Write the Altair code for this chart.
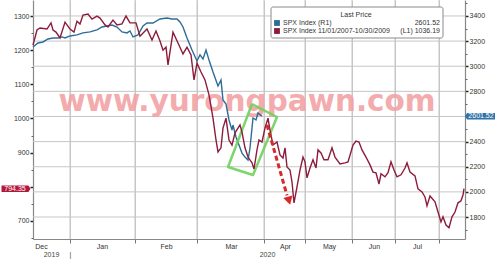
import altair as alt
import pandas as pd

# ---------------- data ----------------
# x position is a chart "time index" (0 = left edge of plot, 432 = right edge)
red_t = [0,4,7,14,18,20,23,27,32,37,41,44,47,50,55,59,64,67,72,75,80,84,89,93,97,103,107,114,119,123,
         127,130,133,135,140,145,150,154,158,161,164,168,172,176,180,183,185,188,190,193,196,199,202,205,207,209,212,215,219,221,
         224,226,229,232,235,237,240,244,247,250,252,254,257,259,261,264,267,270,272,274,277,280,283,285,288,291,295,299,302,307,
         312,315,320,323,326,329,333,337,340,343,346,348,352,355,358,361,364,368,372,374,377,382,385,389,392,394,397,402,405,408,
         410,413,416,419,422,425,428,430,431]
red_v = [1215,1259,1265,1262,1280,1259,1253,1236,1282,1262,1253,1285,1277,1303,1306,1291,1300,1294,1274,1268,
         1288,1274,1277,1300,1280,1280,1241,1262,1230,1256,1227,1200,1209,1157,1253,1221,1189,1209,1186,1113,
         1162,1136,1113,1069,1001,937,902,914,972,1001,937,922,958,972,981,960,914,887,870,852,
         908,937,931,972,1001,966,922,931,893,884,914,858,849,814,753,800,849,887,873,826,
         855,879,855,908,899,879,879,914,887,867,870,873,922,934,931,908,887,864,843,841,
         808,838,829,841,873,849,829,835,855,870,843,832,794,785,770,744,773,756,726,697,
         712,688,680,712,726,753,759,776,794.35]

blue_t = [0,5,10,15,20,25,29,32,37,44,50,57,64,69,74,79,84,89,94,97,100,105,110,114,120,127,134,139,144,147,
          150,154,159,164,167,170,173,176,180,185,188,190,193,196,199,200,203,206,209,212,215,217,220,223,225,229]
blue_v = [3153,3185,3193,3217,3225,3225,3233,3225,3241,3249,3265,3273,3289,3312,3320,3328,3312,3273,3265,3281,
          3233,3249,3320,3344,3344,3376,3384,3376,3376,3352,3312,3225,3129,3042,3090,3058,3129,3050,2954,2843,
          2890,2731,2699,2572,2492,2532,2437,2373,2309,2277,2254,2349,2588,2572,2628,2601.52]

month_names = ["Dec", "Jan", "Feb", "Mar", "Apr", "May", "Jun", "Jul"]
month_label_t = [8, 69, 133, 198, 252, 296, 341, 384]
month_start_t = [37, 102, 164, 231, 272, 319, 362, 406]
year_labels = ["2019", "|", "2020"]
year_label_t = [18, 37, 234]

left_ticks = [700, 800, 900, 1000, 1100, 1200, 1300]
left_minor = [650, 750, 850, 950, 1050, 1150, 1250, 1350]
right_ticks = [1800, 2000, 2200, 2400, 2600, 2800, 3000, 3200, 3400]
right_minor = [1700, 1900, 2100, 2300, 2500, 2700, 2900, 3100, 3300, 3500]

# annotations
box_t = [219, 244, 220, 195, 219]
box_v = [2699, 2596, 2134, 2198, 2699]
arrow_t = [234, 254]
arrow_v = [981, 775]
arrow_head_t = [256]
arrow_head_v = [759]

red_last = 794.35
blue_last = 2601.52
legend_title = "Last Price"
legend_names = ["SPX Index  (R1)", "SPX Index 11/01/2007-10/30/2009"]
legend_values = ["2601.52", "(L1) 1036.19"]
watermark_text = "www.yurongpawn.com"

# ---------------- styles ----------------
FONT = "Liberation Sans"
RED = "#8c1c3c"
BLUE = "#2e6c98"
RED_TAG = "#b3173a"
BLUE_TAG = "#2f73a8"
ARROW = "#d62a2a"
GREEN = "#6fd15c"
GRID = "#c6c6c6"
W, H = 432, 239

xscale = alt.Scale(domain=[0, 432], nice=False, zero=False)
lscale = alt.Scale(domain=[647, 1347], nice=False, zero=False)
rscale = alt.Scale(domain=[1625, 3527], nice=False, zero=False)

red_df = pd.DataFrame({"t": red_t, "v": red_v})
blue_df = pd.DataFrame({"t": blue_t, "v": blue_v})


def xnone():
    return alt.X("t:Q", scale=xscale, axis=None)


def yl():
    return alt.Y("v:Q", scale=lscale, axis=None)


def yr():
    return alt.Y("v:Q", scale=rscale, axis=None)


# ---------- grid lines (span the whole plot) ----------
hgrid = alt.Chart(pd.DataFrame({"v": right_ticks})).mark_rule(
    color=GRID, strokeWidth=1).encode(
    y=yr(), x=alt.value(0), x2=alt.value(W))
vgrid = alt.Chart(pd.DataFrame({"t": month_start_t})).mark_rule(
    color=GRID, strokeWidth=1).encode(
    x=xnone(), y=alt.value(0), y2=alt.value(H))

# ---------- 2020 (right axis) ----------
blue_line = alt.Chart(blue_df).mark_line(color=BLUE, strokeWidth=1.4).encode(
    x=alt.X("t:Q", scale=xscale, title=None,
            axis=alt.Axis(orient="bottom", values=month_start_t, labels=False, ticks=True, tickSize=4,
                          tickColor="#777", domainColor="#888", grid=True, gridColor=GRID,
                          gridWidth=1)),
    y=alt.Y("v:Q", scale=rscale, title=None,
            axis=alt.Axis(orient="right", values=right_ticks, format="d",
                          labelExpr="datum.value == 2600 ? '' : datum.label",
                          tickSize=3, tickWidth=1.5, tickColor="#222", domainColor="#888", domainWidth=1.2,
                          grid=False, labelFont=FONT, labelFontSize=7, labelColor="#333", labelPadding=1)),
)
right_minor_axis = alt.Chart(pd.DataFrame({"v": right_minor})).mark_point(opacity=0).encode(
    y=alt.Y("v:Q", scale=rscale, title=None,
            axis=alt.Axis(orient="right", values=right_minor, labels=False, domain=False, grid=False,
                          tickSize=2, tickColor="#666", tickWidth=1)))

box_df = pd.DataFrame({"t": box_t, "v": box_v, "i": list(range(len(box_t)))})
green_box = alt.Chart(box_df).mark_line(color=GREEN, strokeWidth=2.5, strokeJoin="round", opacity=0.9).encode(
    x=xnone(), y=yr(), order="i:Q")

blue_tag_df = pd.DataFrame({"v": [blue_last], "label": [f"{blue_last:.2f}"]})
blue_tag = alt.Chart(blue_tag_df).mark_point(
    shape="M-1,0L-0.86,-0.22L1,-0.22L1,0.22L-0.86,0.22Z", size=900, filled=True,
    color=BLUE_TAG, opacity=1).encode(x=alt.value(447), y=yr())
blue_tag_text = alt.Chart(blue_tag_df).mark_text(color="white", font=FONT, fontSize=7).encode(
    x=alt.value(448), y=yr(), text="label:N")

# ---------- 2008 (left axis) ----------
red_line = alt.Chart(red_df).mark_line(color=RED, strokeWidth=1.4).encode(
    x=xnone(),
    y=alt.Y("v:Q", scale=lscale, title=None,
            axis=alt.Axis(orient="left", values=left_ticks, format="d",
                          labelExpr="datum.value == 800 ? '' : datum.label",
                          tickSize=3, tickWidth=1.5, tickColor="#222", domainColor="#888", domainWidth=1.2,
                          grid=False, labelFont=FONT, labelFontSize=7, labelColor="#333", labelPadding=1)),
)
left_minor_axis = alt.Chart(pd.DataFrame({"v": left_minor})).mark_point(opacity=0).encode(
    y=alt.Y("v:Q", scale=lscale, title=None,
            axis=alt.Axis(orient="left", values=left_minor, labels=False, domain=False, grid=False,
                          tickSize=2, tickColor="#666", tickWidth=1)))

arrow_line = alt.Chart(pd.DataFrame({"t": arrow_t, "v": arrow_v})).mark_line(
    color=ARROW, strokeWidth=3, strokeDash=[5, 3]).encode(x=xnone(), y=yl())
arrow_head = alt.Chart(pd.DataFrame({"t": arrow_head_t, "v": arrow_head_v})).mark_point(
    shape="triangle-down", filled=True, size=90, angle=344, color=ARROW, opacity=1).encode(x=xnone(), y=yl())

red_tag_df = pd.DataFrame({"v": [red_last], "label": [f"{red_last:.2f}"]})
red_tag = alt.Chart(red_tag_df).mark_point(
    shape="M-1,-0.22L0.86,-0.22L1,0L0.86,0.22L-1,0.22Z", size=840, filled=True,
    color=RED_TAG, opacity=1).encode(x=alt.value(-17), y=yl())
red_tag_text = alt.Chart(red_tag_df).mark_text(color="white", font=FONT, fontSize=7).encode(
    x=alt.value(-18), y=yl(), text="label:N")


# ---------- x label axes ----------
def label_expr(vals, names):
    expr = "''"
    for v, n in zip(reversed(vals), reversed(names)):
        expr = f"datum.value == {v} ? '{n}' : ({expr})"
    return expr


month_axis = alt.Chart(pd.DataFrame({"t": month_label_t})).mark_point(opacity=0).encode(
    x=alt.X("t:Q", scale=xscale, title=None,
            axis=alt.Axis(orient="bottom", values=month_label_t, labelExpr=label_expr(month_label_t, month_names),
                          ticks=False, domain=False, grid=False, labelPadding=3,
                          labelFont=FONT, labelFontSize=7, labelColor="#333")))
year_axis = alt.Chart(pd.DataFrame({"t": year_label_t})).mark_point(opacity=0).encode(
    x=alt.X("t:Q", scale=xscale, title=None,
            axis=alt.Axis(orient="bottom", values=year_label_t, labelExpr=label_expr(year_label_t, year_labels),
                          ticks=False, domain=False, grid=False, labelPadding=11,
                          labelFont=FONT, labelFontSize=7, labelColor="#444")))

# ---------- watermark ----------
one = alt.Data(values=[{"a": 1}])
watermark = alt.Chart(one).mark_text(
    text=watermark_text, font="DejaVu Sans", fontWeight="bold", fontSize=29.5, color="#f2a3a5",
    opacity=0.9, align="center", baseline="alphabetic").encode(x=alt.value(214), y=alt.value(111))

# ---------- legend box ----------
leg_box = alt.Chart(one).mark_rect(fill="white", stroke="#8a8a8a", strokeWidth=1, cornerRadius=2).encode(
    x=alt.value(238), x2=alt.value(410), y=alt.value(7), y2=alt.value(38))
leg_title = alt.Chart(one).mark_text(text=legend_title, font=FONT, fontSize=7, color="#333",
                                     align="center", baseline="middle").encode(x=alt.value(323), y=alt.value(14.5))
leg_rows_y = [23, 31]
leg_colors = [BLUE, RED]
leg_items = []
for i in range(2):
    leg_items.append(alt.Chart(one).mark_square(size=34, opacity=1, filled=True, color=leg_colors[i]).encode(
        x=alt.value(244), y=alt.value(leg_rows_y[i])))
    leg_items.append(alt.Chart(one).mark_text(text=legend_names[i], font=FONT, fontSize=7, color="#333",
                                              align="left", baseline="middle").encode(
        x=alt.value(250), y=alt.value(leg_rows_y[i])))
    leg_items.append(alt.Chart(one).mark_text(text=legend_values[i], font=FONT, fontSize=7, color="#333",
                                              align="right", baseline="middle").encode(
        x=alt.value(407), y=alt.value(leg_rows_y[i])))

chart = alt.layer(
    hgrid, vgrid, watermark, blue_line, right_minor_axis, green_box, red_line, left_minor_axis,
    arrow_line, arrow_head, blue_tag, blue_tag_text, red_tag, red_tag_text, month_axis, year_axis,
    leg_box, leg_title, *leg_items
).resolve_scale(y="independent").resolve_axis(x="independent").properties(
    width=W, height=H,
    padding={"left": 33, "top": 0, "right": 33, "bottom": 21},
    autosize=alt.AutoSizeParams(type="none"),
    background="white",
).configure_view(stroke=None)

chart.save("out.html", embed_options={"renderer": "svg", "actions": False})
